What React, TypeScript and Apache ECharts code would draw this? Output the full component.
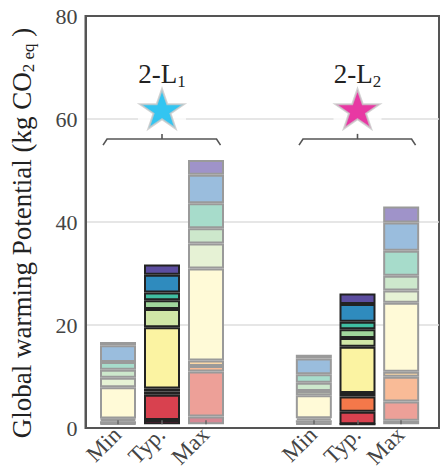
import React, { useEffect, useRef } from 'react';
import * as echarts from 'echarts';

// ---------- data ----------
const barCategories = ['Min', 'Typ.', 'Max'];
const groupLabels = ['1', '2']; // subscripts of "2-L"
const componentNames = ['C1', 'C2', 'C3', 'C4', 'C5', 'C6', 'C7', 'C8', 'C9', 'C10'];

// stacked values, bottom -> top (kg CO2 eq)
const L1_min = [0.1, 0.5, 0.3, 0.2, 6.15, 1.85, 1.6, 1.5, 3.3, 0.6];
const L1_typ = [0.85, 4.95, 0.6, 0.6, 12.0, 3.6, 1.7, 1.5, 3.5, 2.0];
const L1_max = [1.5, 8.85, 1.05, 1.1, 18.0, 4.9, 3.0, 4.9, 5.6, 2.9];
const L2_min = [0.1, 0.2, 0.5, 0.37, 4.53, 0.8, 1.65, 1.62, 3.1, 0.75];
const L2_typ = [0.0, 2.45, 3.0, 0.65, 9.1, 1.7, 1.7, 1.5, 3.45, 2.05];
const L2_max = [0.7, 3.75, 4.85, 1.0, 13.5, 2.4, 2.9, 4.9, 5.55, 3.1];

const yMin = 0;
const yMax = 80;
const yInterval = 20;

// ---------- styles ----------
const strongColors = ['#9e1a4a', '#d8414f', '#f4784a', '#f9b062', '#fbf3a2', '#d1e6a7', '#a0d69c', '#40bfa2', '#2f8bbe', '#5c4d9f'];
const lightColors = ['#d58894', '#eda098', '#f9bb97', '#fcd8a6', '#fffad7', '#e6f2d5', '#cde8cc', '#a7dccb', '#9abddd', '#9f93c9'];
const starColors = ['#00b7ee', '#e2068c'];
const FONT = 'Liberation Serif';
const STAR_PATH = 'path://M50,0 L61.8,35.1 L98.9,35.1 L68.9,56.8 L80.3,91.9 L50,70.2 L19.7,91.9 L31.1,56.8 L1.1,35.1 L38.2,35.1 Z';

const groups = [
  { min: L1_min, typ: L1_typ, max: L1_max },
  { min: L2_min, typ: L2_typ, max: L2_max },
];

export default function App() {
  const ref = useRef<HTMLDivElement>(null);

  useEffect(() => {
    if (!ref.current) return;
    const chart = echarts.init(ref.current, undefined, { renderer: 'svg' });

    const grids: any[] = [
      { left: 80, top: 16, width: 359, height: 412, show: true, borderColor: '#555', borderWidth: 2, backgroundColor: 'transparent' },
      { left: 96, top: 16, width: 132, height: 412 },
      { left: 292, top: 16, width: 131, height: 412 },
    ];

    const xAxes: any[] = [
      { gridIndex: 0, type: 'value', min: 0, max: 1, show: false },
    ];
    const yAxes: any[] = [
      {
        gridIndex: 0, type: 'value', min: yMin, max: yMax, interval: yInterval,
        axisLine: { show: true, lineStyle: { color: '#555', width: 2 } },
        axisTick: { show: false },
        axisLabel: { fontFamily: FONT, fontSize: 22, color: '#444', margin: 8 },
        splitLine: { show: true, showMinLine: false, showMaxLine: false, lineStyle: { color: '#dedede', width: 1.5 } },
        name: '{t|Global warming Potential (kg CO}{s|2 eq}{t| )}',
        nameLocation: 'middle', nameGap: 49, nameRotate: 90,
        nameTextStyle: {
          padding: [0, 22, 0, 0],
          rich: {
            t: { fontFamily: FONT, fontSize: 27, color: '#222' },
            s: { fontFamily: FONT, fontSize: 17, color: '#222', padding: [13, 0, 0, 0] },
          },
        },
      },
    ];

    const series: any[] = [];

    groups.forEach((grp, g) => {
      const gi = g + 1;
      xAxes.push({
        gridIndex: gi, type: 'category', data: barCategories, z: 3,
        axisLine: { show: false },
        axisTick: { show: true, inside: true, alignWithLabel: true, length: 4, lineStyle: { color: '#666', width: 1.5 } },
        axisLabel: { rotate: 45, fontFamily: FONT, fontSize: 23, color: '#444', margin: 6, padding: [0, 1, 0, 0] },
        splitLine: { show: false },
      });
      yAxes.push({ gridIndex: gi, type: 'value', min: yMin, max: yMax, interval: yInterval, show: false, splitLine: { show: false } });

      componentNames.forEach((name, k) => {
        series.push({
          type: 'bar', name, xAxisIndex: gi, yAxisIndex: gi, stack: 'grp' + g, barWidth: 36,
          silent: true,
          data: [
            { value: grp.min[k], itemStyle: { color: lightColors[k], borderColor: '#9a9a9a', borderWidth: 2 } },
            { value: grp.typ[k], itemStyle: { color: strongColors[k], borderColor: '#222', borderWidth: 2 } },
            { value: grp.max[k], itemStyle: { color: lightColors[k], borderColor: '#9a9a9a', borderWidth: 2 } },
          ],
        });
      });

      // white gap in gridline behind the star
      series.push({
        type: 'scatter', xAxisIndex: gi, yAxisIndex: gi, silent: true,
        symbol: 'rect', symbolSize: [48, 6], itemStyle: { color: '#fff' },
        data: [[1, 60]],
      });
      // star
      series.push({
        type: 'scatter', xAxisIndex: gi, yAxisIndex: gi, silent: true,
        symbol: STAR_PATH, symbolKeepAspect: true, symbolSize: [44, 42],
        itemStyle: { color: starColors[g], borderColor: '#c8c8c8', borderWidth: 2 },
        data: [[1, 61.8]],
      });
      // bracket and group label
      const sub = groupLabels[g];
      series.push({
        type: 'custom', xAxisIndex: gi, yAxisIndex: gi, silent: true,
        data: [[1, 55.9]],
        renderItem: (params: any, api: any) => {
          const c = api.coord([1, 55.9]);
          const bw = api.size([1, 0])[0];
          const left = api.coord([0, 55.9])[0] - 0.34 * bw;
          const right = api.coord([2, 55.9])[0] + 0.33 * bw;
          const yEnd = api.coord([1, 54.7])[1];
          const yTick = api.coord([1, 56.9])[1];
          const lab = api.coord([1, 68.6]);
          return {
            type: 'group',
            children: [
              {
                type: 'polyline',
                shape: { points: [[left, yEnd], [left + 4, c[1]], [right - 4, c[1]], [right, yEnd]] },
                style: { stroke: '#555', lineWidth: 1.6, fill: null },
              },
              {
                type: 'line',
                shape: { x1: c[0], y1: c[1], x2: c[0], y2: yTick },
                style: { stroke: '#555', lineWidth: 1.6 },
              },
              {
                type: 'text',
                x: lab[0], y: lab[1],
                style: {
                  text: '{a|2-L}{b|' + sub + '}',
                  align: 'center', verticalAlign: 'middle',
                  rich: {
                    a: { fontFamily: FONT, fontSize: 27, fill: '#222' },
                    b: { fontFamily: FONT, fontSize: 17, fill: '#222', padding: [14, 0, 0, 0] },
                  },
                },
              },
            ],
          };
        },
      });
    });

    chart.setOption({
      animation: false,
      backgroundColor: '#fff',
      grid: grids,
      xAxis: xAxes,
      yAxis: yAxes,
      series,
    });

    return () => chart.dispose();
  }, []);

  return <div ref={ref} style={{ position: 'fixed', left: 0, top: 0, width: 441, height: 471 }} />;
}
